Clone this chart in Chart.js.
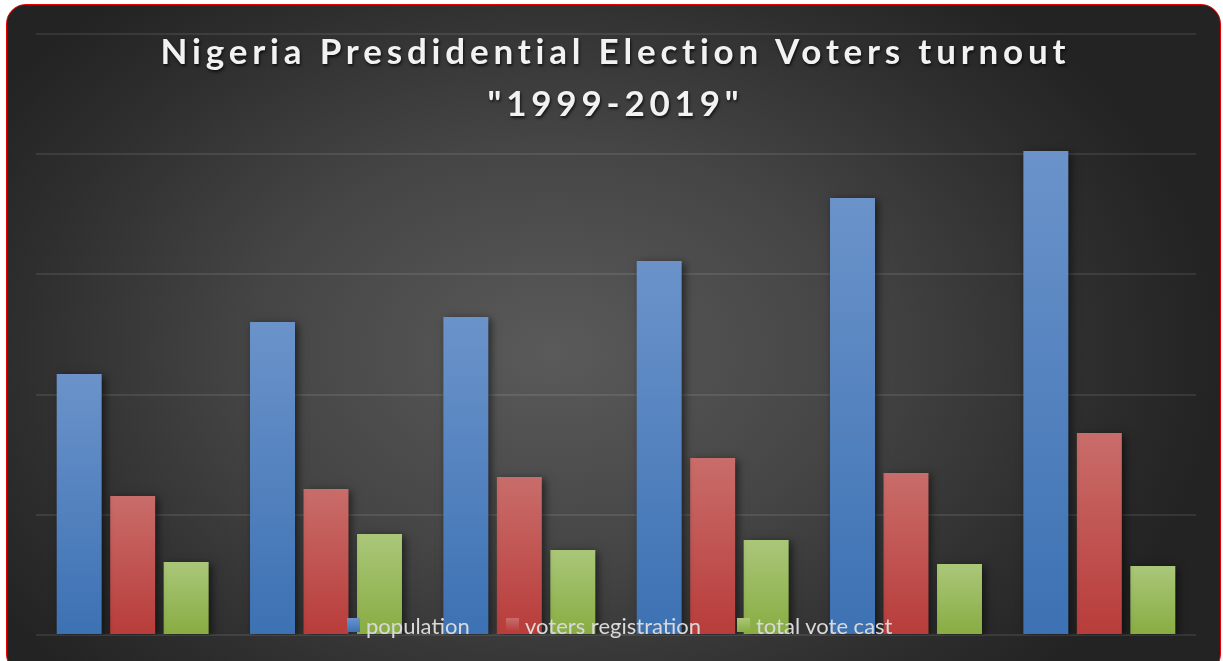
<!DOCTYPE html>
<html>
<head>
<meta charset="utf-8">
<script src="https://cdn.jsdelivr.net/npm/chart.js@4.4.0/dist/chart.umd.min.js"></script>
<style>
  html, body { margin: 0; padding: 0; background: #fff; width: 1223px; height: 661px; overflow: hidden; }
  .frame {
    position: absolute; left: 6px; top: 4px; width: 1215px; height: 670px;
    box-sizing: border-box; border: 1.5px solid #e60000; border-radius: 20px;
    background: radial-gradient(ellipse 55% 70% at 45% 52%, #5a5a5a 0%, #454545 45%, #2e2e2e 80%, #232323 100%);
  }
  #wrap { position: absolute; left: 0; top: 0; width: 1223px; height: 661px; }
  .title {
    position: absolute; left: 9px; width: 1213px; top: 24px; text-align: center;
    font-family: Lato, sans-serif; font-weight: bold; font-size: 35px; line-height: 52px;
    letter-spacing: 4.8px; color: #f2f2f2; text-shadow: 1px 2px 3px rgba(0,0,0,0.7);
  }
  .legend-item {
    position: absolute; top: 612px; height: 26px; display: flex; align-items: center;
    font-family: Lato, sans-serif; font-size: 22px; color: #d9d9d9;
  }
  .legend-item span.box { width: 13px; height: 14px; margin-right: 6px; }
</style>
</head>
<body>
<div class="frame"></div>
<div id="wrap"><canvas id="electionChart" width="1223" height="661"></canvas></div>
<div class="title">Nigeria Presdidential Election Voters turnout<br>"1999-2019"</div>
<div id="legend"></div>
<script>
// election years (category labels are not shown on the chart)
const years = ['1999', '2003', '2007', '2011', '2015', '2019'];

// values in millions
const population = [108.6, 130.2, 132.3, 155.6, 181.8, 201.3];
const votersRegistration = [57.8, 60.7, 65.7, 73.6, 67.4, 84.0];
const totalVoteCast = [30.4, 42.0, 35.4, 39.5, 29.5, 28.7];

// y axis: no tick labels, gridline every 50
const yMax = 250;
const yStep = 50;

const seriesNames = ['population', 'voters registration', 'total vote cast'];
const seriesColors = [
  ['#6b93ca', '#3c71b3'],
  ['#c96d6a', '#b83c3a'],
  ['#aac779', '#88ac42']
];

// vertical gradient on each bar, light at the top
function barGradient(top, bottom) {
  return function (context) {
    const chart = context.chart;
    if (!chart.chartArea || context.type !== 'data') return bottom;
    const y = chart.scales.y;
    const yTop = y.getPixelForValue(context.raw);
    const yBase = y.getPixelForValue(0);
    const g = chart.ctx.createLinearGradient(0, yTop, 0, yBase);
    g.addColorStop(0, top);
    g.addColorStop(1, bottom);
    return g;
  };
}

const seriesData = [population, votersRegistration, totalVoteCast];
const datasets = seriesData.map((values, i) => ({
  label: seriesNames[i],
  data: values,
  backgroundColor: barGradient(seriesColors[i][0], seriesColors[i][1]),
  borderWidth: 0,
  categoryPercentage: 0.83,
  barPercentage: 0.841
}));

// soft drop shadow behind the bars
const barShadow = {
  id: 'barShadow',
  beforeDatasetsDraw(chart) {
    const c = chart.ctx;
    c.save();
    c.shadowColor = 'rgba(0,0,0,0.55)';
    c.shadowBlur = 8;
    c.shadowOffsetX = 3;
    c.shadowOffsetY = 2;
  },
  afterDatasetsDraw(chart) {
    chart.ctx.restore();
  }
};

const ctx = document.getElementById('electionChart').getContext('2d');
const myChart = new Chart(ctx, {
  type: 'bar',
  data: { labels: years, datasets: datasets },
  options: {
    responsive: false,
    animation: false,
    layout: { padding: { left: 36, right: 27, top: 34, bottom: 26 } },
    plugins: {
      legend: { display: false },
      title: { display: false },
      tooltip: { enabled: false }
    },
    scales: {
      x: { display: false },
      y: {
        min: 0,
        max: yMax,
        ticks: { display: false, stepSize: yStep },
        border: { display: false },
        grid: { color: 'rgba(255,255,255,0.09)', lineWidth: 2, drawTicks: false },
        afterFit: s => { s.width = 0; }
      }
    }
  },
  plugins: [barShadow]
});

// legend drawn as html text under the bars
const legendX = [347, 506, 737];
const legendEl = document.getElementById('legend');
seriesNames.forEach((name, i) => {
  const item = document.createElement('div');
  item.className = 'legend-item';
  item.style.left = legendX[i] + 'px';
  const box = document.createElement('span');
  box.className = 'box';
  box.style.background = `linear-gradient(${seriesColors[i][0]}, ${seriesColors[i][1]})`;
  item.appendChild(box);
  item.appendChild(document.createTextNode(name));
  legendEl.appendChild(item);
});
</script>
</body>
</html>
